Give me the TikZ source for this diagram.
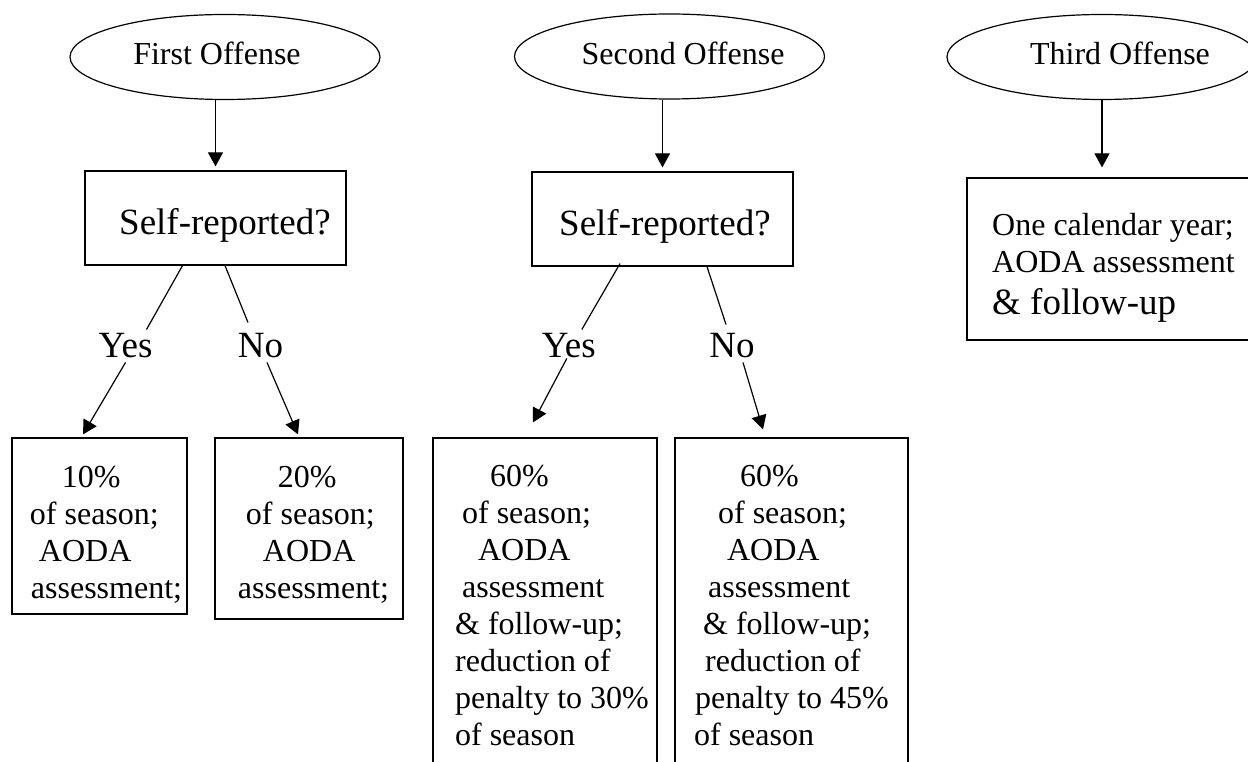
\documentclass[tikz,border=0pt]{standalone}
\usepackage{fontspec}
\setmainfont{Liberation Serif}
\usepackage{tikz}
\usetikzlibrary{shapes.geometric}
\usetikzlibrary{arrows.meta}
\tikzstyle{offense} = [ellipse, draw, line width=1.2pt, inner sep=0pt, text height=22pt, text depth=6pt,
    minimum width=310pt, minimum height=85pt, font=\fontsize{32}{37}\selectfont]
\tikzstyle{question} = [rectangle, draw, line width=1.2pt, inner sep=0pt, text height=34pt, text depth=0pt,
    minimum width=261pt, minimum height=94pt, font=\fontsize{37}{42}\selectfont]
\tikzstyle{penalty} = [rectangle, draw, line width=1.2pt, inner sep=0pt,
    align=left, font=\fontsize{32}{37}\selectfont]
\tikzstyle{answer} = [inner sep=4pt, font=\fontsize{37}{42}\selectfont]
\tikzstyle{line} = [draw, line width=1.2pt]
\tikzstyle{link} = [draw, line width=1.2pt, -{Triangle[length=14pt,width=15pt]}, shorten >=4pt]

\begin{document}
\begin{tikzpicture}[x=1pt, y=-1pt]
  \useasboundingbox (0,0) rectangle (1248,762);

  \node [offense] (first) at (225,57) {\hspace*{-8pt}First Offense\hspace*{8pt}};
  \node [offense] (second) at (669.5,56.5) {\hspace*{13.5pt}Second Offense\hspace*{-13.5pt}};
  \node [offense] (third) at (1102,57) {\hspace*{18pt}Third Offense\hspace*{-18pt}};

  \node [question] (self1) at (215.5,218) {\hspace*{9.5pt}Self-reported?\hspace*{-9.5pt}};
  \node [question] (self2) at (662.5,219) {\hspace*{2.5pt}Self-reported?\hspace*{-2.5pt}};
  \node [penalty, minimum width=293pt, minimum height=162pt] (year) at (1113.5,259)
    {\rule{0pt}{40pt}One calendar year;\\AODA assessment\\[5pt]{\fontsize{37}{42}\selectfont\& follow-up}};

  \node [answer] (yes1) at (125.5,346) {Yes};
  \node [answer] (no1) at (260.5,346) {No};
  \node [answer] (yes2) at (568.8,346) {Yes};
  \node [answer] (no2) at (732,346) {No};

  \node [penalty, minimum width=175pt, minimum height=176pt] (ten) at (99.5,526)
    {\rule{0pt}{38pt}\hspace*{45pt}10\%\\\hspace*{13pt}of season;\\\hspace*{22pt}AODA\\\hspace*{14pt}assessment;};
  \node [penalty, minimum width=188pt, minimum height=181pt] (twenty) at (309,528.5)
    {\rule{0pt}{33pt}\hspace*{49pt}20\%\\\hspace*{17pt}of season;\\\hspace*{34pt}AODA\\\hspace*{9pt}assessment;};
  \node [penalty, minimum width=224pt, minimum height=335pt] (sixtyA) at (545,605.5)
    {\hspace*{49pt}60\%\\\hspace*{21pt}of season;\\\hspace*{37pt}AODA\\\hspace*{21pt}assessment\\
     \hspace*{14pt}\& follow-up;\\\hspace*{14pt}reduction of\\\hspace*{14pt}penalty to 30\%\\\hspace*{14pt}of season};
  \node [penalty, minimum width=233pt, minimum height=335pt] (sixtyB) at (791.5,605.5)
    {\hspace*{46pt}60\%\\\hspace*{24pt}of season;\\\hspace*{33pt}AODA\\\hspace*{14pt}assessment\\
     \hspace*{9pt}\& follow-up;\\\hspace*{11pt}reduction of\\\hspace*{1pt}penalty to 45\%\\of season};

  \path [link] (self1.north |- first.south) -- (self1.north);
  \path [link] (self2.north |- second.south) -- (self2.north);
  \path [link, shorten >=10pt] (third.south) -- (third.south |- year.north);

  \path [line] ([xshift=-33pt]self1.south) -- ([xshift=21pt]yes1.north);
  \path [link, shorten >=0pt] (yes1.south) -- ([xshift=-16.5pt,yshift=3pt]ten.north);
  \path [line] ([xshift=9.5pt]self1.south) -- ([xshift=-12.5pt,yshift=7pt]no1.north);
  \path [link, shorten >=0pt] ([xshift=6.5pt]no1.south) -- ([xshift=-11pt,yshift=3pt]twenty.north);

  \path [line] ([xshift=-42.5pt,yshift=3pt]self2.south) -- ([xshift=13pt]yes2.north);
  \path [link, shorten >=0pt] ([xshift=-2pt,yshift=4pt]yes2.south) -- ([xshift=-12pt,yshift=15pt]sixtyA.north);
  \path [line] ([xshift=44.5pt]self2.south) -- ([xshift=-6pt,yshift=5pt]no2.north);
  \path [link, shorten >=0pt] ([xshift=11pt]no2.south) -- ([xshift=-28.5pt,yshift=8pt]sixtyB.north);

\end{tikzpicture}
\end{document}
